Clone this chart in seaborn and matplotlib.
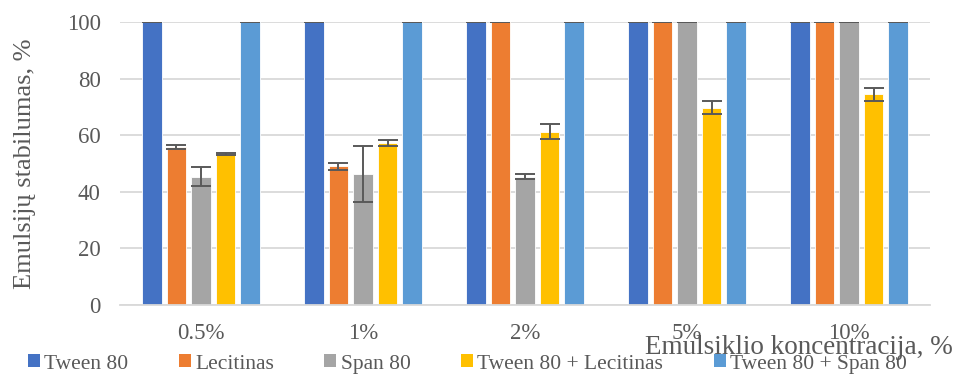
import numpy as np
import pandas as pd
import seaborn as sns
import matplotlib.pyplot as plt
from matplotlib.patches import Patch

# data
concentrations = ["0.5%", "1%", "2%", "5%", "10%"]
series = ["Tween 80", "Lecitinas", "Span 80", "Tween 80 + Lecitinas", "Tween 80 + Span 80"]
tween80 = [100, 100, 100, 100, 100]
lecitinas = [55.8, 49.0, 100, 100, 100]
span80 = [45.4, 46.4, 45.4, 100, 100]
tween_lec = [53.4, 57.2, 61.2, 69.7, 74.4]
tween_span = [100, 100, 100, 100, 100]
err_tween80 = [0, 0, 0, 0, 0]
err_lecitinas = [0.7, 1.2, 0, 0, 0]
err_span80 = [3.4, 9.9, 1.0, 0, 0]
err_tween_lec = [0.3, 1.1, 2.7, 2.3, 2.4]
err_tween_span = [0, 0, 0, 0, 0]

colors = ["#4472C4", "#ED7D31", "#A5A5A5", "#FFC000", "#5B9BD5"]
text_color = "#595959"

values = [tween80, lecitinas, span80, tween_lec, tween_span]
errors = [err_tween80, err_lecitinas, err_span80, err_tween_lec, err_tween_span]

rows = []
for s, vals in zip(series, values):
    for c, v in zip(concentrations, vals):
        rows.append({"Koncentracija": c, "Emulsiklis": s, "Stabilumas": v})
df = pd.DataFrame(rows)

sns.set_style("white")
plt.rcParams["font.family"] = ["Liberation Serif", "DejaVu Serif"]

fig = plt.figure(figsize=(9.55, 3.75), dpi=100)
ax = fig.add_axes([120 / 955, 70 / 375, 810 / 955, 283 / 375])

sns.barplot(data=df, x="Koncentracija", y="Stabilumas", hue="Emulsiklis",
            order=concentrations, hue_order=series, palette=colors,
            width=0.76, gap=0.2, errorbar=None, saturation=1,
            edgecolor="white", linewidth=0.6, ax=ax, zorder=2)

# error bars on top of each bar
for cont, errs in zip(ax.containers, errors):
    xs = [p.get_x() + p.get_width() / 2 for p in cont]
    ys = [p.get_height() for p in cont]
    ax.errorbar(xs, ys, yerr=errs, fmt="none", ecolor="#595959",
                elinewidth=1.4, capsize=7.5, capthick=1.4, zorder=3)

ax.set_xlim(-0.5, len(concentrations) - 0.5)
ax.set_ylim(0, 100)
ax.set_yticks(range(0, 101, 20))
ax.yaxis.grid(True, color="#D9D9D9", linewidth=1.3, zorder=0)
ax.set_axisbelow(True)
for side in ["top", "right", "left"]:
    ax.spines[side].set_visible(False)
ax.spines["bottom"].set_color("#D9D9D9")
ax.spines["bottom"].set_linewidth(1.3)
ax.tick_params(axis="both", length=0, labelsize=16.5, labelcolor=text_color)
ax.tick_params(axis="y", pad=14)
ax.tick_params(axis="x", pad=13)
ax.set_xlabel("")
ax.set_ylabel("Emulsijų stabilumas, %", fontsize=19, labelpad=22, color=text_color)
ax.get_legend().remove()

fig.text(953 / 955, 1 - 348 / 375, "Emulsiklio koncentracija, %",
         ha="right", va="center", fontsize=19.5, color=text_color)

handles = [Patch(facecolor=c, edgecolor="none") for c in colors]
leg = fig.legend(handles, series, loc="center left", bbox_to_anchor=(28 / 955, 1 - 364 / 375),
                 ncol=5, frameon=False, fontsize=15.5, handlelength=0.55, handleheight=0.55,
                 handletextpad=0.2, columnspacing=2.35, borderaxespad=0, borderpad=0)
for t in leg.get_texts():
    t.set_color(text_color)

fig.savefig("out.png", dpi=100)
